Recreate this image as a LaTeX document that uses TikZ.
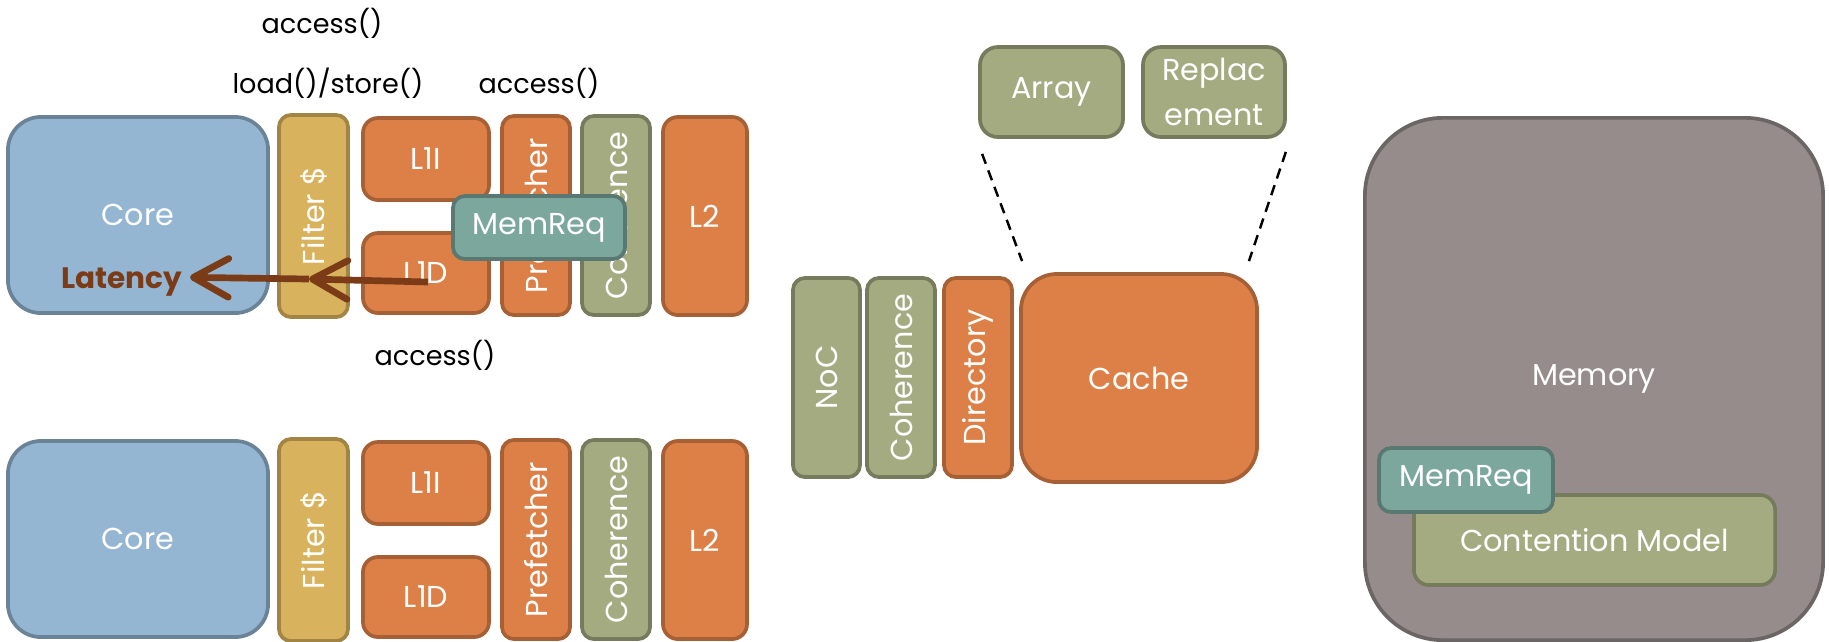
\documentclass[tikz,border=0pt]{standalone}
\usepackage{fontspec}
\setmainfont{Poppins}
\usetikzlibrary{arrows.meta}
% Office "Median" palette
\definecolor{mBlue}{HTML}{94B6D2}
\definecolor{mOrange}{HTML}{DD8047}
\definecolor{mGreen}{HTML}{A5AB81}
\definecolor{mGold}{HTML}{D8B25C}
\definecolor{mTeal}{HTML}{7BA79D}
\definecolor{mGrey}{HTML}{968C8C}
\definecolor{mBrown}{HTML}{7B3B17}
\begin{document}
\begin{tikzpicture}[x=0.01cm,y=-0.01cm,
  blk/.style={line width=1.05pt, inner sep=0pt, text=white,
    font=\fontsize{8.6}{12.8}\selectfont, align=center},
  blue/.style={blk, fill=mBlue, draw=mBlue!72!black},
  orange/.style={blk, fill=mOrange, draw=mOrange!75!black},
  green/.style={blk, fill=mGreen, draw=mGreen!72!black},
  gold/.style={blk, fill=mGold, draw=mGold!75!black},
  teal/.style={blk, fill=mTeal, draw=mTeal!72!black},
  grey/.style={blk, fill=mGrey, draw=mGrey!72!black},
  vbar/.style={rotate=90, minimum width=1.99cm, minimum height=0.68cm, rounded corners=0.12cm},
  call/.style={font=\fontsize{7.7}{9}\selectfont, text=black, inner sep=0pt, anchor=base},
  latarrow/.style={mBrown, line width=1.9pt, -{Straight Barb[length=10pt,width=11pt,round]}},
  zoomln/.style={black, line width=0.7pt, dash pattern=on 3pt off 2pt}
]
\useasboundingbox (0,0) rectangle (1829,641);

% two core tiles, identical apart from their height
\foreach \r/\dy in {a/0,b/324}{
  \node[blue, minimum width=2.60cm, minimum height=1.96cm, rounded corners=0.33cm]
    (core\r) at (138,{215+\dy}) {Core};
  \node[gold, vbar, minimum width=2.02cm, minimum height=0.69cm]
    (filt\r) at (313.5,{216+\dy}) {Filter \$};
  \node[orange, minimum width=1.26cm, minimum height=0.82cm, rounded corners=0.15cm]
    (lli\r) at (426,{159+\dy}) {L1I};
  \node[orange, minimum width=1.26cm, minimum height=0.80cm, rounded corners=0.15cm]
    (lld\r) at (426,{273+\dy}) {L1D};
  \node[orange, vbar] (pref\r) at (536,{215.5+\dy}) {Prefetcher};
  \node[green, vbar] (coh\r) at (616,{215.5+\dy}) {Coherence};
  \node[orange, minimum width=0.84cm, minimum height=1.98cm, rounded corners=0.15cm]
    (ltwo\r) at (705,{216+\dy}) {L2};
}

% method calls
\node[call] (acc1) at (322,33) {access()};
\node[call] (ldst) at (328,93) {load()/store()};
\node[call] (acc2) at (539,93) {access()};
\node[call] (acc3) at (435,365) {access()};

% latency path back to the core
\node[font=\fontsize{8.4}{9}\bfseries\selectfont, text=mBrown, inner sep=2pt, anchor=base east]
  (lat) at (190,288) {Latency};
\coordinate (dtap) at (428,282);
\coordinate (ftap) at (309,279);
\draw[latarrow] (dtap) -- (ftap);
\draw[latarrow] (ftap) -- ([yshift=1.2pt]lat.east);

\node[teal, minimum width=1.72cm, minimum height=0.63cm, rounded corners=0.12cm]
  (mreq) at (539,227.5) {MemReq};

% shared cache bank
\node[green, vbar, minimum height=0.67cm] (noc) at (826.5,377.5) {NoC};
\node[green, vbar] (cohc) at (901,377.5) {Coherence};
\node[orange, vbar] (dir) at (978,377.5) {Directory};
\node[orange, minimum width=2.36cm, minimum height=2.08cm, rounded corners=0.36cm]
  (cache) at (1139,378) {Cache};
\node[green, minimum width=1.43cm, minimum height=0.90cm, rounded corners=0.18cm]
  (arr) at (1051.5,92) {Array};
\node[green, minimum width=1.42cm, minimum height=0.90cm, rounded corners=0.18cm]
  (repl) at (1214,92) {Replac\\ement};
\draw[zoomln] ([shift={(4,15)}]arr.south west) -- ([shift={(3,-11)}]cache.north west);
\draw[zoomln] ([shift={(-1,13)}]repl.south east) -- ([shift={(-10,-11)}]cache.north east);

% main memory
\node[grey, minimum width=4.58cm, minimum height=5.22cm, rounded corners=0.78cm]
  (mem) at (1594,379) {Memory};
\node[green, minimum width=3.61cm, minimum height=0.90cm, rounded corners=0.15cm]
  (cont) at (1594.5,540) {Contention Model};
\node[teal, minimum width=1.74cm, minimum height=0.64cm, rounded corners=0.12cm]
  (mreqm) at (1466,480) {MemReq};
\end{tikzpicture}
\end{document}
